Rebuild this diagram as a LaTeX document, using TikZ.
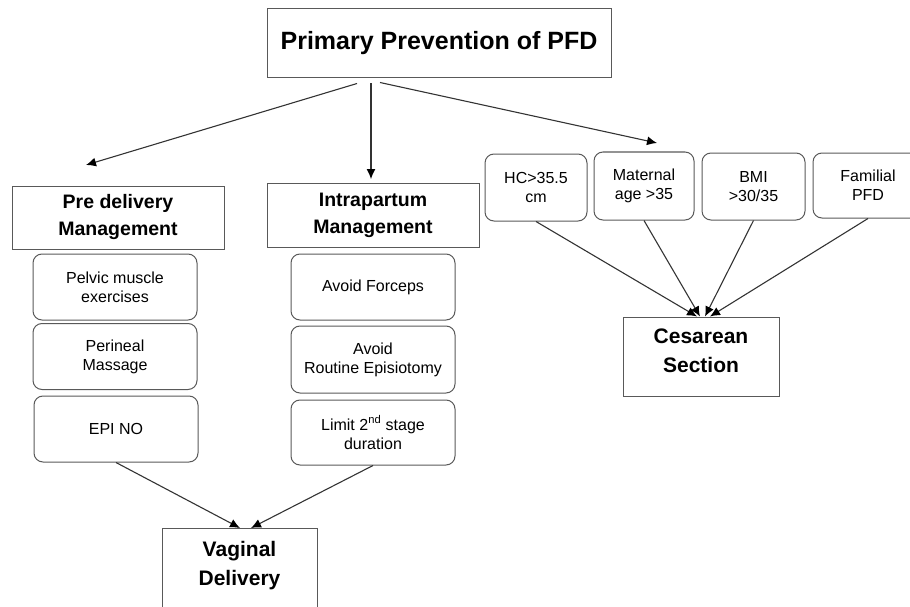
\documentclass[tikz,border=0pt]{standalone}
\usepackage{fontspec}
\setmainfont{Liberation Sans}
\usetikzlibrary{arrows.meta}
\tikzstyle{TitleNode}=[rectangle, draw=black!65, line width=1pt, align=center, font=\bfseries\fontsize{19.5}{27}\selectfont]
\tikzstyle{TopNode}=[TitleNode, font=\bfseries\fontsize{25}{30}\selectfont]
\tikzstyle{OutNode}=[TitleNode, font=\bfseries\fontsize{21}{29}\selectfont]
\tikzstyle{StepNode}=[rectangle, rounded corners=9pt, draw=black!65, line width=1pt, align=center, font=\fontsize{16}{19}\selectfont, minimum width=164pt, minimum height=66pt]
\tikzstyle{RiskNode}=[StepNode, minimum width=102pt, minimum height=67pt]
\tikzstyle{LinkEdge}=[->, line width=1.1pt, draw=black!80]
\tikzset{>={Latex[length=10pt, width=9pt, color=black]}}

\begin{document}
\begin{tikzpicture}[x=1pt, y=-1pt]
\useasboundingbox (0,0) rectangle (910,607);

\node[TopNode, minimum width=344pt, minimum height=69pt](PFD) at (439,43.5) {Primary Prevention of PFD};

\coordinate (PreTip) at (86,165);
\coordinate (IntraTip) at (371,179);
\coordinate (RiskTip) at (657,143);

\draw[LinkEdge]([xshift=-82pt, yshift=-5pt]PFD.south) -- (PreTip);
\draw[LinkEdge]([xshift=-68pt, yshift=-5pt]PFD.south) -- (IntraTip);
\draw[LinkEdge]([xshift=-59pt, yshift=-4pt]PFD.south) -- (RiskTip);

%%%%%%%%%%%%%%%%%%%%%%%%%%%%%%%%%%%%%%%%%

\node[TitleNode, minimum width=212pt, minimum height=63pt](PreMgmt) at (118,217.5) {Pre delivery\\Management};
\node[StepNode](Pelvic) at (115,287) {Pelvic muscle\\exercises};
\node[StepNode](Perineal) at (115,356.5) {Perineal\\Massage};
\node[StepNode](EpiNo) at (116,429) {EPI NO};

\node[TitleNode, minimum width=212pt, minimum height=64pt](IntraMgmt) at (373,215) {Intrapartum\\Management};
\node[StepNode](Forceps) at (373,287) {Avoid Forceps};
\node[StepNode, minimum height=67pt](Episio) at (373,359.5) {Avoid\\Routine Episiotomy};
\node[StepNode, minimum height=65pt](Limit) at (373,432.5) {Limit 2\textsuperscript{nd} stage\\duration};

\node[OutNode, anchor=north, minimum width=155pt, inner ysep=13pt, text depth=60pt](Vaginal) at (239.5,528) {Vaginal\\Delivery};

\draw[LinkEdge](EpiNo.south) -- ([xshift=0.5pt]Vaginal.north);
\draw[LinkEdge](Limit.south) -- ([xshift=11.5pt]Vaginal.north);

%%%%%%%%%%%%%%%%%%%%%%%%%%%%%%%%%%%%%%%%%

\node[RiskNode](HC) at (536,187.5) {HC>35.5\\cm};
\node[RiskNode, minimum width=100pt, minimum height=68pt](MatAge) at (644,186) {Maternal\\age >35};
\node[RiskNode, minimum width=103pt](BMI) at (753.5,186.5) {BMI\\>30/35};
\node[RiskNode, minimum width=110pt, minimum height=65pt](Familial) at (868,185.5) {Familial\\PFD};

\node[OutNode, minimum width=156pt, minimum height=79pt, text depth=12pt](Cesarean) at (701,356.5) {Cesarean\\Section};

\draw[LinkEdge](HC.south) -- ([xshift=-4pt]Cesarean.north);
\draw[LinkEdge](MatAge.south) -- ([xshift=-1pt]Cesarean.north);
\draw[LinkEdge](BMI.south) -- ([xshift=4pt]Cesarean.north);
\draw[LinkEdge](Familial.south) -- ([xshift=9pt]Cesarean.north);
\end{tikzpicture}
\end{document}
